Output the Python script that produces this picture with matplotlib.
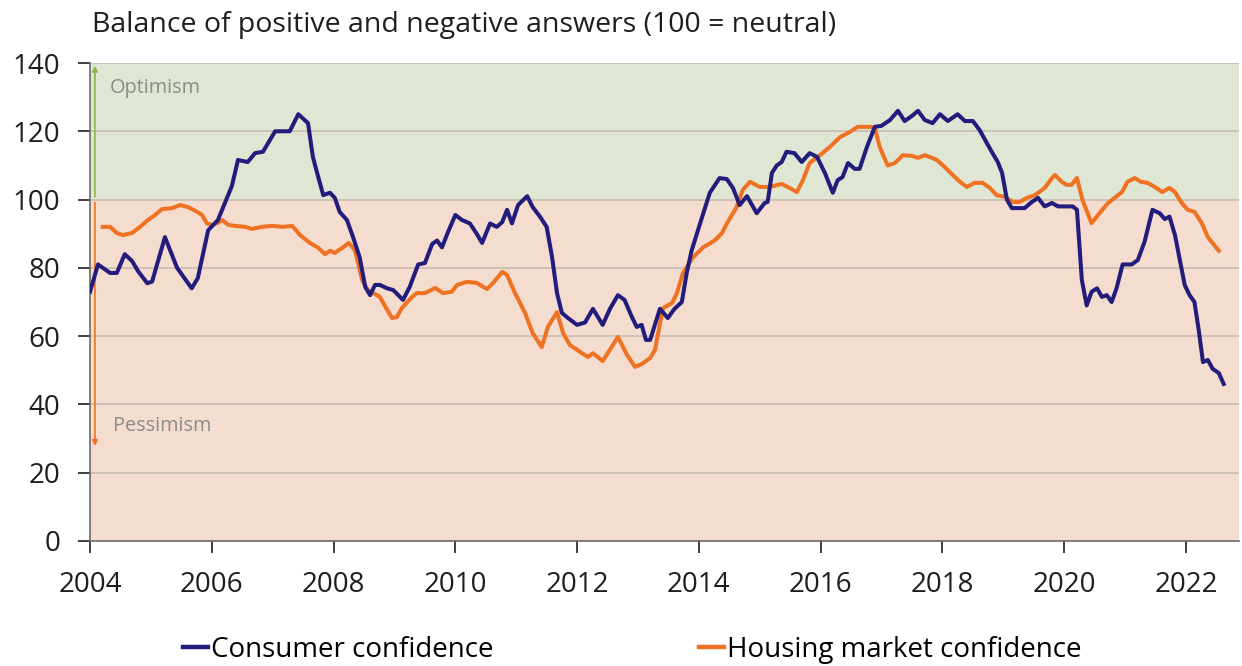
import matplotlib.pyplot as plt
from matplotlib.lines import Line2D

plt.rcParams['font.family'] = ['Open Sans', 'DejaVu Sans']

# consumer confidence (fractional years)
cc_year = [2004.0, 2004.13, 2004.33, 2004.44, 2004.57, 2004.69, 2004.79, 2004.94, 2005.02, 2005.23,
           2005.43, 2005.67, 2005.77, 2005.94, 2006.10, 2006.33, 2006.43, 2006.59, 2006.71, 2006.84,
           2007.04, 2007.17, 2007.28, 2007.42, 2007.58, 2007.66, 2007.73, 2007.83, 2007.94, 2008.02,
           2008.10, 2008.22, 2008.32, 2008.43, 2008.52, 2008.60, 2008.68, 2008.76, 2008.88, 2008.98,
           2009.14, 2009.25, 2009.39, 2009.50, 2009.62, 2009.70, 2009.78, 2009.88, 2010.00, 2010.11,
           2010.24, 2010.35, 2010.44, 2010.57, 2010.68, 2010.77, 2010.85, 2010.93, 2011.03, 2011.18,
           2011.27, 2011.39, 2011.50, 2011.59, 2011.67, 2011.75, 2011.85, 2012.00, 2012.13, 2012.26,
           2012.42, 2012.54, 2012.67, 2012.78, 2012.90, 2012.98, 2013.06, 2013.13, 2013.20, 2013.36,
           2013.49, 2013.60, 2013.72, 2013.80, 2013.88, 2014.02, 2014.18, 2014.34, 2014.46, 2014.56,
           2014.67, 2014.79, 2014.95, 2015.08, 2015.13, 2015.20, 2015.28, 2015.36, 2015.44, 2015.57,
           2015.69, 2015.82, 2015.94, 2016.07, 2016.20, 2016.28, 2016.36, 2016.45, 2016.56, 2016.64,
           2016.76, 2016.89, 2017.00, 2017.14, 2017.27, 2017.38, 2017.50, 2017.60, 2017.71, 2017.84,
           2017.96, 2018.09, 2018.25, 2018.37, 2018.50, 2018.61, 2018.70, 2018.81, 2018.91, 2018.98,
           2019.06, 2019.14, 2019.35, 2019.47, 2019.57, 2019.68, 2019.80, 2019.90, 2020.01, 2020.14,
           2020.21, 2020.29, 2020.37, 2020.45, 2020.54, 2020.62, 2020.70, 2020.78, 2020.86, 2020.96,
           2021.11, 2021.21, 2021.32, 2021.45, 2021.57, 2021.65, 2021.73, 2021.82, 2021.90, 2021.98,
           2022.06, 2022.14, 2022.21, 2022.28, 2022.36, 2022.44, 2022.54, 2022.62]
cc_val = [73, 81, 78.5, 78.5, 84, 82, 79, 75.5, 76, 89,
          80, 74, 77, 91, 94, 104, 111.6, 111, 113.6, 114,
          120, 120, 120, 125, 122.4, 112.5, 107.8, 101.3, 102, 100.5,
          96.4, 94, 89, 83, 74.4, 72, 75, 75, 74, 73.5,
          70.6, 74.4, 81, 81.4, 87, 88, 86, 90.5, 95.5, 94,
          93, 90, 87.3, 93, 92, 93.4, 97, 93, 98.4, 101,
          97.8, 95, 92, 83, 72.6, 66.8, 65.3, 63.3, 64, 68,
          63.3, 68, 72, 70.6, 65.6, 62.7, 63.3, 58.9, 58.9, 68,
          65.3, 68, 70, 78.5, 85, 93, 102, 106.3, 106, 103.4,
          98.4, 101, 96, 99, 99.3, 107.8, 110, 111, 114, 113.6,
          111, 113.6, 112.5, 107.8, 102, 105.7, 106.6, 110.7, 109, 109,
          115.4, 121.3, 121.6, 123.3, 126, 123, 124.5, 126, 123.3, 122.4,
          125, 123, 125, 123, 123, 120.4, 117.5, 114, 111, 107.8,
          100, 97.5, 97.5, 99.3, 100.5, 98, 99, 98, 98, 98,
          97, 76.5, 69, 73, 74, 71.5, 72, 70, 74, 81,
          81, 82.3, 87.6, 97, 96, 94.3, 95, 89.6, 82.3, 75,
          72, 70, 61.8, 52.4, 53, 50.4, 49.2, 46]

# housing market confidence
hm_year = [2004.21, 2004.33, 2004.44, 2004.54, 2004.69, 2004.82, 2004.95, 2005.07, 2005.18, 2005.35,
           2005.48, 2005.61, 2005.76, 2005.84, 2005.92, 2006.00, 2006.10, 2006.17, 2006.27, 2006.38,
           2006.55, 2006.66, 2006.82, 2006.99, 2007.17, 2007.32, 2007.45, 2007.61, 2007.74, 2007.86,
           2007.94, 2008.02, 2008.14, 2008.25, 2008.35, 2008.47, 2008.56, 2008.76, 2008.88, 2008.96,
           2009.04, 2009.12, 2009.29, 2009.37, 2009.50, 2009.67, 2009.80, 2009.94, 2010.03, 2010.19,
           2010.35, 2010.52, 2010.62, 2010.77, 2010.85, 2010.98, 2011.14, 2011.27, 2011.42, 2011.52,
           2011.67, 2011.77, 2011.88, 2012.00, 2012.08, 2012.18, 2012.26, 2012.42, 2012.54, 2012.67,
           2012.82, 2012.95, 2013.06, 2013.20, 2013.28, 2013.41, 2013.56, 2013.64, 2013.74, 2013.90,
           2014.07, 2014.26, 2014.38, 2014.46, 2014.62, 2014.72, 2014.84, 2015.00, 2015.17, 2015.36,
           2015.49, 2015.61, 2015.71, 2015.82, 2015.99, 2016.15, 2016.32, 2016.48, 2016.61, 2016.81,
           2016.89, 2016.97, 2017.10, 2017.22, 2017.35, 2017.50, 2017.60, 2017.71, 2017.83, 2017.91,
           2018.04, 2018.17, 2018.29, 2018.40, 2018.53, 2018.66, 2018.78, 2018.89, 2019.02, 2019.16,
           2019.27, 2019.39, 2019.52, 2019.68, 2019.80, 2019.85, 2019.96, 2020.04, 2020.12, 2020.21,
           2020.30, 2020.45, 2020.58, 2020.72, 2020.83, 2020.95, 2021.04, 2021.16, 2021.26, 2021.37,
           2021.49, 2021.61, 2021.73, 2021.82, 2021.93, 2022.03, 2022.14, 2022.26, 2022.36, 2022.54]
hm_val = [92, 92, 90.2, 89.6, 90.2, 92, 94, 95.5, 97.2, 97.5,
          98.4, 97.8, 96.4, 95.5, 93, 92.6, 93.2, 94, 92.6, 92.3,
          92, 91.4, 92, 92.3, 92, 92.3, 89.6, 87.3, 86, 84,
          85, 84.4, 85.8, 87.3, 85.2, 76.4, 73.5, 71.5, 67.7, 65.3,
          65.6, 68.2, 71.5, 72.6, 72.6, 74.1, 72.6, 73, 75, 75.9,
          75.6, 73.8, 75.6, 78.8, 77.9, 72.6, 67, 60.9, 56.8, 62.7,
          67, 60.9, 57.4, 56, 55, 53.9, 55, 52.7, 56, 59.8,
          54.5, 51, 51.8, 53.6, 56, 68.2, 69.7, 72.6, 78.5, 83,
          86, 88, 90.2, 93, 97.8, 102.8, 105.2, 103.7, 103.7, 104.6,
          103.4, 102.2, 105.7, 110.7, 113, 115.4, 118.3, 119.8, 121.3, 121.3,
          121, 115.4, 110, 110.7, 113, 112.8, 112.2, 113, 112.2, 111.6,
          109.5, 107.2, 105.2, 103.7, 104.9, 104.9, 103.4, 101.3, 100.8, 99.3,
          99.3, 100.5, 101.3, 103.4, 106.3, 107.2, 105.2, 104.3, 104.3, 106.3,
          99.9, 93.1, 96, 99, 100.5, 102.2, 105.2, 106.3, 105.2, 104.9,
          103.7, 102.2, 103.4, 102.2, 99, 97, 96.4, 93.1, 89, 85]

year_ticks = list(range(2004, 2023, 2))
value_ticks = list(range(0, 141, 20))

blue = '#221c7c'
orange = '#ef7222'
text_col = '#1e1e1e'

fig = plt.figure(figsize=(12.42, 6.66), dpi=100)
ax = fig.add_axes([0.0725, 0.1877, 0.925, 0.7177])

# optimism / pessimism bands
ax.axhspan(100, 140, color='#dfe6d3', zorder=0, lw=0)
ax.axhspan(0, 100, color='#f4dccf', zorder=0, lw=0)
for v in value_ticks[1:]:
    ax.axhline(v, color='#cdbfb3', lw=1.3, zorder=1)

ax.plot(cc_year, cc_val, color=blue, lw=2.9, zorder=4, label='Consumer confidence',
        solid_joinstyle='round')
ax.plot(hm_year, hm_val, color=orange, lw=2.9, zorder=3, label='Housing market confidence',
        solid_joinstyle='round')

# arrows
ax.annotate('', xy=(2004.08, 140), xytext=(2004.08, 100),
            arrowprops=dict(arrowstyle='-|>', color='#8cb84a', lw=1.2, mutation_scale=8), zorder=2)
ax.annotate('', xy=(2004.08, 27), xytext=(2004.08, 100),
            arrowprops=dict(arrowstyle='-|>', color=orange, lw=1.2, mutation_scale=8), zorder=2)
ax.text(2004.32, 132.7, 'Optimism', color='#8c8c8c', fontsize=14.3, va='center')
ax.text(2004.37, 33.8, 'Pessimism', color='#8c8c8c', fontsize=14.3, va='center')

ax.set_xlim(2004, 2022.87)
ax.set_ylim(0, 140)
ax.set_xticks(year_ticks)
ax.set_yticks(value_ticks)
ax.tick_params(axis='both', labelsize=20, colors=text_col, length=8.5, width=1.2, direction='out')
ax.tick_params(axis='x', pad=13)
ax.tick_params(axis='y', pad=13)
for s in ['top', 'right']:
    ax.spines[s].set_visible(False)
for s in ['left', 'bottom']:
    ax.spines[s].set_color('#6b6b6b')
    ax.spines[s].set_linewidth(1.2)

fig.text(0.074, 0.962, 'Balance of positive and negative answers (100 = neutral)',
         fontsize=20.5, color=text_col, va='center')

handles = [Line2D([], [], color=blue, lw=3.2), Line2D([], [], color=orange, lw=3.2)]
fig.legend(handles, ['Consumer confidence', 'Housing market confidence'],
           loc='center', bbox_to_anchor=(0.509, 0.024), ncol=2, frameon=False,
           fontsize=20, handlelength=0.9, handletextpad=0.1, columnspacing=7.4)

fig.savefig('out.png', dpi=100)
